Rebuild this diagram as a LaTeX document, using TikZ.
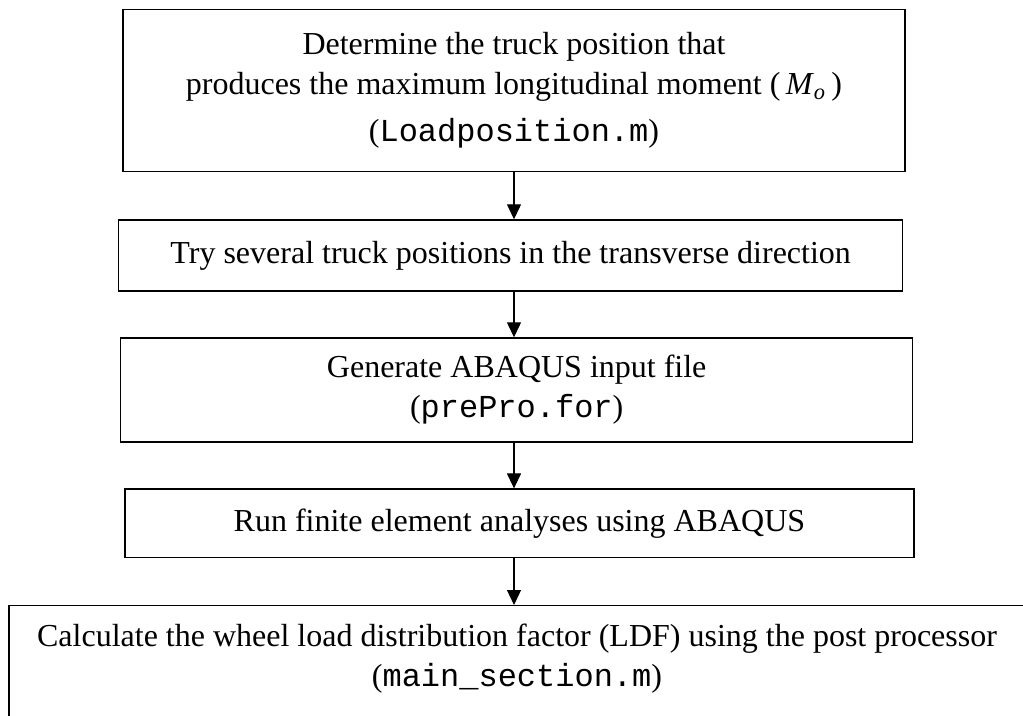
\documentclass[tikz,border=0pt]{standalone}
\usepackage{fontspec}
\setmainfont{Liberation Serif}
\setmonofont{Liberation Mono}
\usetikzlibrary{arrows.meta,positioning,calc}

\begin{document}
\begin{tikzpicture}[x=0.5pt,y=-0.5pt,>={Triangle[length=7.5pt,width=7pt]},
  stepbox/.style={draw,line width=0.7pt,inner sep=0pt,align=center,
    font=\fontsize{16pt}{20pt}\selectfont}]
  \useasboundingbox (0,0) rectangle (1023,716);
  \clip (0,0) rectangle (1023,716);

  % the boxes of the flow chart
  \node[stepbox,minimum width=391pt,minimum height=81pt] (pos) at (514,90.5)
    {Determine the truck position that\\
     produces the maximum longitudinal moment (\,\textit{M}\textsubscript{\textit{o}}\,)\\[3.5pt]
     (\texttt{Loadposition.m})};
  \node[stepbox,minimum width=392pt,minimum height=35.5pt] (trans) at (510.7,255.5)
    {Try several truck positions in the transverse direction};
  \node[stepbox,minimum width=396pt,minimum height=52pt] (gen) at (516.7,390)
    {Generate ABAQUS input file\\ (\texttt{prePro.for})};
  \node[stepbox,minimum width=394.5pt,minimum height=34.3pt] (run) at (519.4,523.4)
    {Run finite element analyses using ABAQUS};
  % last box runs off the page
  \node[stepbox,minimum width=508pt,anchor=north,inner ysep=9pt,text depth=80pt] (ldf) at (517,605)
    {Calculate the wheel load distribution factor (LDF) using the post processor\\
     (\texttt{main\_section.m})};

  % arrows
  \draw[->,line width=0.6pt] (pos.south) -- (pos.south |- trans.north);
  \draw[->,line width=0.6pt] (trans.south -| pos.south) -- (pos.south |- gen.north);
  \draw[->,line width=0.6pt] (gen.south -| pos.south) -- (pos.south |- run.north);
  \draw[->,line width=0.6pt] (run.south -| pos.south) -- (pos.south |- ldf.north);
\end{tikzpicture}
\end{document}
